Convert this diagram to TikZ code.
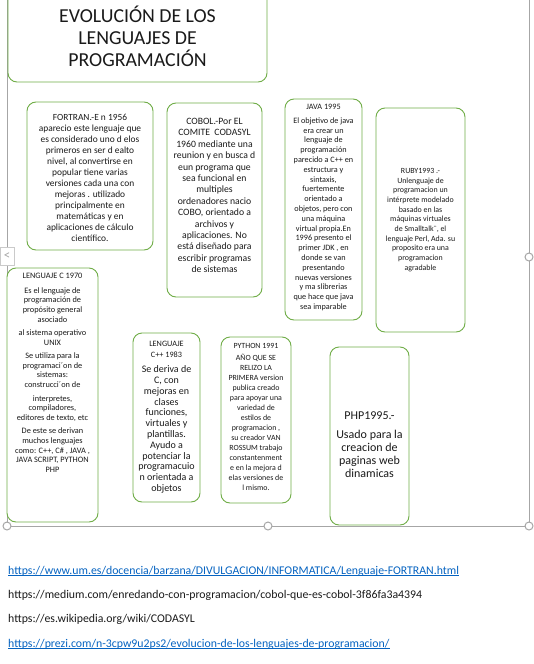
\documentclass[tikz,border=0pt]{standalone}
\usepackage{fontspec}
\setmainfont{Carlito}
\definecolor{verde}{HTML}{70AD47}
\definecolor{gris}{HTML}{A6A6A6}
\definecolor{azulenlace}{HTML}{0563C1}
\definecolor{tinta}{HTML}{1A1A1A}
\newcommand{\fsz}[2]{\fontsize{#1}{#2}\selectfont}

\begin{document}
\begin{tikzpicture}[x=1pt,y=-1pt]
  \tikzstyle{caja}=[draw=verde,line width=0.9pt,rounded corners=9pt,fill=white,inner sep=0pt]
  \tikzstyle{texto}=[align=center,inner sep=0pt,text=tinta]
  \tikzstyle{asa}=[draw=gris,circle,fill=white,line width=1pt,minimum size=8pt,inner sep=0pt]
  \tikzstyle{enlace}=[anchor=base west,inner sep=0pt,font=\fsz{11.8}{14},text=tinta]
  \clip (0,0) rectangle (534,664);
  \fill[white] (0,0) rectangle (534,664);
  \draw[gris,line width=1pt] (7,0) -- (7,526) -- (529,526) -- (529,0);

  \node[caja,texto,minimum width=259pt,minimum height=92pt,font=\fsz{19.8}{22}] (titulo) at (137.5,36)
    {EVOLUCIÓN DE LOS\\LENGUAJES DE\\PROGRAMACIÓN};

  \node[caja,minimum width=126pt,minimum height=148pt] (fortran) at (90,176) {};
  \node[texto,anchor=north,font=\fsz{9.4}{11}] (fortranT) at (90,114)
    {FORTRAN.-E n 1956\\aparecio este lenguaje que\\es considerado uno d elos\\primeros en ser d ealto\\
     nivel, al convertirse en\\popular tiene varias\\versiones cada una con\\mejoras . utilizado\\
     principalmente en\\matemáticas y en\\aplicaciones de cálculo\\científico.};

  \node[caja,minimum width=95pt,minimum height=194pt] (cobol) at (214.5,200) {};
  \node[texto,anchor=north,font=\fsz{9.7}{11.4}] (cobolT) at (214.5,118)
    {COBOL.-Por EL\\COMITE\ \ CODASYL\\1960 mediante una\\reunion y en busca d\\eun programa que\\
     sea funcional en\\multiples\\ordenadores nacio\\COBO, orientado a\\archivos y\\
     aplicaciones. No\\está diseñado para\\escribir programas\\de sistemas};

  \node[caja,minimum width=77pt,minimum height=221pt] (java) at (323.5,209.5) {};
  \node[texto,anchor=north,font=\fsz{8.2}{9.8}] (javaT) at (323.5,104)
    {JAVA 1995\\[4pt]El objetivo de java\\era crear un\\lenguaje de\\programación\\parecido a C++ en\\
     estructura y\\sintaxis,\\fuertemente\\orientado a\\objetos, pero con\\una máquina\\
     virtual propia.En\\1996 presento el\\primer JDK , en\\donde se van\\presentando\\
     nuevas versiones\\y ma slibrerias\\que hace que java\\sea imparable};

  \node[caja,texto,minimum width=89pt,minimum height=224pt,font=\fsz{7.9}{9.7}] (ruby) at (420.5,220)
    {RUBY1993 .-\\Unlenguaje de\\programacion un\\intérprete modelado\\basado en las\\
     máquinas virtuales\\de Smalltalk¨, el\\lenguaje Perl, Ada. su\\proposito era una\\
     programacion\\agradable};

  \node[caja,minimum width=91pt,minimum height=254pt] (lenguajec) at (52.5,395) {};
  \node[texto,anchor=north,font=\fsz{8.3}{9.7}] (lenguajecT) at (52.5,273)
    {LENGUAJE C 1970\\[5pt]Es el lenguaje de\\programación de\\propósito general\\asociado\\[3.5pt]
     al sistema operativo\\UNIX\\[3.5pt]Se utiliza para la\\programaci´on de\\sistemas:\\
     construcci´on de\\[4pt]interpretes,\\compiladores,\\editores de texto, etc\\[3.5pt]
     De este se derivan\\muchos lenguajes\\como: C++, C\# , JAVA ,\\JAVA SCRIPT, PYTHON\\PHP};

  \node[caja,minimum width=67pt,minimum height=169pt] (cmasmas) at (166.5,417.5) {};
  \node[texto,anchor=north,font=\fsz{8.2}{11}] (cmasmasT) at (166.5,341)
    {LENGUAJE\\C++ 1983};
  \node[texto,anchor=north,font=\fsz{10}{10.8}] (cmasmasB) at (166.5,365.5)
    {Se deriva de\\C, con\\mejoras en\\clases\\funciones,\\virtuales y\\plantillas.\\Ayudo a\\
     potenciar la\\programacuio\\n orientada a\\objetos};

  \node[caja,minimum width=70pt,minimum height=166pt] (python) at (256,420) {};
  \node[texto,anchor=north,font=\fsz{7.9}{10}] (pythonT) at (256,343)
    {PYTHON 1991\\[2pt]AÑO QUE SE\\RELIZO LA\\PRIMERA version\\publica creado\\para apoyar una\\
     variedad de\\estilos de\\programacion ,\\su creador VAN\\ROSSUM trabajo\\constantenment\\
     e en la mejora d\\elas versiones de\\l mismo.};

  \node[caja,minimum width=79pt,minimum height=178pt] (php) at (369.5,436) {};
  \node[texto,anchor=north,font=\fsz{12}{13}] (phpT) at (369.5,411.5)
    {PHP1995.-\\[6pt]Usado para la\\creacion de\\paginas web\\dinamicas};

  \node[draw=gris!60,fill=white,minimum width=14pt,minimum height=18pt,inner sep=0pt,
        font=\fsz{13}{13},text=gris] (flecha) at (7,256) {<};
  \node[asa] (asa1) at (7,526) {};
  \node[asa] (asa2) at (268,526) {};
  \node[asa] (asa3) at (529,526) {};
  \node[asa] (asa4) at (529,257) {};

  \node[enlace,text=azulenlace] (enlace1) at (8,574)
    {https://www.um.es/docencia/barzana/DIVULGACION/INFORMATICA/Lenguaje-FORTRAN.html};
  \node[enlace] (enlace2) at (8,598)
    {https://medium.com/enredando-con-programacion/cobol-que-es-cobol-3f86fa3a4394};
  \node[enlace] (enlace3) at (8,622) {https://es.wikipedia.org/wiki/CODASYL};
  \node[enlace,text=azulenlace] (enlace4) at (8,647)
    {https://prezi.com/n-3cpw9u2ps2/evolucion-de-los-lenguajes-de-programacion/};
  \draw[azulenlace,line width=0.8pt] ([yshift=-1.6pt]enlace1.base west) -- ([yshift=-1.6pt]enlace1.base east);
  \draw[azulenlace,line width=0.8pt] ([yshift=-1.6pt]enlace4.base west) -- ([yshift=-1.6pt]enlace4.base east);
\end{tikzpicture}
\end{document}
